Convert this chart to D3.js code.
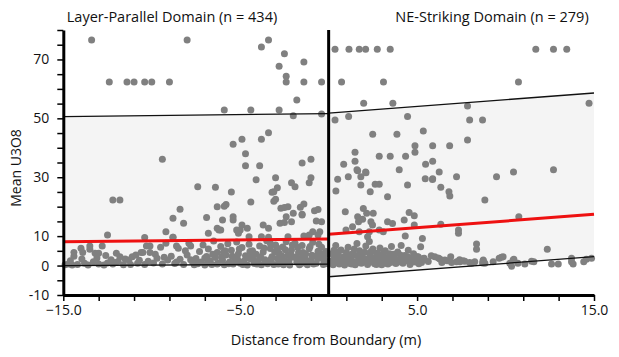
<!DOCTYPE html>
<html><head><meta charset="utf-8">
<script src="https://cdn.jsdelivr.net/npm/d3@7"></script>
<style>
html,body{margin:0;padding:0;background:#fff;}
svg{display:block;font-family:"Open Sans","Noto Sans",sans-serif;}
</style></head>
<body><svg id="chart" width="619" height="357"></svg>
<script>
// ---- data ----
const domainTitles = ["Layer-Parallel Domain (n = 434)", "NE-Striking Domain (n = 279)"];
const xLabel = "Distance from Boundary (m)";
const yLabel = "Mean U3O8";
const xTickValues = [-15,-13,-11,-9,-7,-5,-3,-1,1,3,5,7,9,11,13,15];
const xTickLabels = [-15,-5,5,15];
const yTickValues = [-10,-5,0,5,10,15,20,25,30,35,40,45,50,55,60,65,70,75,80];
const yTickLabels = [-10,0,10,30,50,70];

// envelope and mean lines [x, y]
const leftUpper = [[-15,50.6],[0,51.6]];
const leftLower = [[-15,0.0],[0,0.5]];
const leftMean  = [[-15,8.1],[0,9.0]];
const rightUpper = [[0,51.8],[15,58.6]];
const rightLower = [[0,-3.8],[15,3.0]];
const rightMean  = [[0,10.6],[15,17.4]];

// Layer-parallel domain samples [distance, U3O8]
const leftPoints = [
[-13.4,76.6],[-8.0,76.6],[-3.4,76.6],[-3.8,74.2],[-2.5,71.9],[-1.4,69.1],[-2.8,67.7],[-2.4,64.3],
[-12.4,62.3],[-11.4,62.3],[-11.0,62.3],[-10.4,62.3],[-10.0,62.3],[-9.0,62.3],[-2.4,62.3],[-1.4,62.3],[-0.4,62.3],
[-1.8,56.2],[-5.9,52.8],[-4.4,52.8],[-2.8,52.8],[-2.0,50.9],[-0.4,51.5],
[-3.4,45.1],[-4.9,42.9],[-3.8,42.9],[-5.4,41.2],[-4.7,38.0],[-9.4,36.1],[-1.0,36.1],[-1.5,34.8],[-4.7,33.9],[-3.9,33.9],
[-3.0,29.8],[-1.0,29.8],[-4.1,29.1],[-2.1,28.1],[-1.1,28.1],[-1.9,26.8],[-7.4,26.8],[-6.4,26.6],[-2.9,26.4],[-3.1,25.1],[-5.5,25.0],[-3.2,24.9],
[-4.4,21.6],[-3.0,22.5],[-3.1,21.8],[-12.2,22.3],[-11.8,22.3],[-2.5,19.7],[-1.4,20.9],[-1.6,19.8],[-2.3,20.0],[-2.7,19.5],[-2.0,17.8],[-0.8,18.6],[-0.6,19.0],
[-6.3,20.0],[-5.8,20.7],[-5.9,20.1],[-8.4,19.1],[-8.8,16.1],[-8.2,14.4],[-6.9,16.3],[-6.0,15.5],[-5.4,16.6],[-5.4,15.5],[-4.9,13.8],[-4.6,12.7],[-3.7,13.8],[-3.4,12.7],
[-2.4,16.6],[-2.1,14.9],[-2.5,14.6],[-2.75,14.4],[-1.5,17.4],[-1.5,17.2],[-0.7,15.1],[-0.4,14.9],[-0.9,11.5],[-0.5,11.5],[-1.1,10.4],[-0.6,10.4],
[-12.5,10.4],[-9.2,11.5],[-8.8,9.6],[-10.4,9.5],[-6.8,11.0],[-6.2,12.1],[-6.1,12.1],[-6.3,12.7],[-5.0,12.1],[-5.1,11.0],[-5.2,12.1],[-4.5,9.8],[-3.8,9.8],[-3.4,9.6],[-2.3,9.8],[-1.4,10.0],
[-14.9,0.3],[-14.7,0.5],[-14.5,0.2],[-14.4,4.4],[-14.4,3.2],[-14.2,0.4],[-14.0,5.9],[-13.9,4.4],[-13.8,0.8],[-13.6,0.2],[-13.5,6.6],[-13.5,5.5],[-13.3,1.3],[-13.2,4.2],[-13.0,4.2],[-13.0,0.5],
[-12.8,6.6],[-12.7,0.2],[-12.5,0.9],[-12.3,2.0],[-12.2,0.5],[-12.0,4.2],[-11.9,1.4],[-11.8,3.0],[-11.6,0.3],[-11.5,2.2],[-11.3,1.9],[-11.1,3.0],[-10.9,3.6],[-10.8,0.8],[-10.6,4.4],[-10.5,4.4],
[-10.4,0.4],[-10.3,6.6],[-10.2,1.5],[-10.1,6.6],[-10.1,4.4],[-9.9,0.9],[-9.7,2.5],[-9.5,6.2],[-9.4,0.5],[-9.2,7.6],[-9.1,1.9],[-8.9,3.2],[-8.8,9.6],[-8.7,0.7],[-8.6,6.6],[-8.5,5.9],[-8.4,2.1],[-8.2,0.4],[-8.0,3.6],[-7.9,7.6],[-7.8,6.6],[-7.7,1.3],[-7.6,0.3],
[-7.5,2.4],[-7.4,0.6],[-7.3,4.8],[-7.2,1.2],[-7.1,7.0],[-7.0,0.2],[-6.9,3.1],[-6.8,5.6],[-6.7,1.6],[-6.6,0.4],[-6.5,8.3],[-6.4,2.7],[-6.3,4.4],[-6.2,0.9],[-6.1,6.5],[-6.0,1.9],[-5.9,0.3],[-5.8,3.6],[-5.7,7.4],[-5.6,1.2],[-5.5,5.2],[-5.4,0.5],[-5.3,2.6],[-5.2,8.0],[-5.1,4.0],[-5.0,0.8],
[-4.9,6.1],[-4.8,1.5],[-4.7,3.3],[-4.6,0.2],[-4.5,7.2],[-4.4,2.2],[-4.3,5.0],[-4.2,0.7],[-4.1,3.8],[-4.0,1.4],[-3.9,6.6],[-3.8,0.3],[-3.7,4.6],[-3.6,2.0],[-3.5,8.4],[-3.4,1.0],[-3.3,5.8],[-3.2,3.0],[-3.1,0.4],[-3.0,7.0],
[-2.9,2.4],[-2.8,4.2],[-2.7,0.9],[-2.6,6.3],[-2.5,1.7],[-2.4,8.1],[-2.3,3.5],[-2.2,0.2],[-2.1,5.3],[-2.0,2.8],[-1.9,7.6],[-1.8,1.1],[-1.7,4.5],[-1.6,0.6],[-1.5,6.8],[-1.4,2.1],[-1.3,3.9],[-1.2,0.3],[-1.1,5.7],[-1.0,1.6],
[-0.9,7.9],[-0.8,3.2],[-0.7,0.8],[-0.6,4.9],[-0.5,2.5],[-0.4,6.2],[-0.3,0.4],[-0.2,3.7],[-0.1,1.3],
[-7.45,1.0],[-7.0,2.6],[-6.75,0.9],[-6.55,3.8],[-6.3,0.5],[-6.05,2.9],[-5.85,5.0],[-5.65,0.6],[-5.45,3.2],[-5.25,1.3],[-5.05,5.6],[-4.85,0.4],[-4.65,2.6],[-4.45,4.8],[-4.25,1.9],[-4.05,0.5],
[-3.85,3.0],[-3.65,6.0],[-3.45,0.6],[-3.25,2.2],[-3.05,4.6],[-2.85,0.5],[-2.65,3.3],[-2.45,5.4],[-2.25,1.5],[-2.05,7.0],[-1.85,3.0],[-1.65,0.3],[-1.45,4.4],[-1.25,1.8],[-1.05,6.5],[-0.85,0.5],[-0.65,2.9],[-0.45,4.1],[-0.25,1.9],[-0.05,0.6],
[-3.9,2.6],[-3.3,7.6],[-2.9,5.9],[-2.55,0.3],[-2.15,3.9],[-1.75,6.2],[-1.35,0.9],[-0.95,3.5],[-0.55,7.2],[-0.15,4.8],[-1.55,2.6],[-2.75,2.0],[-3.55,1.2],[-4.35,3.4],[-5.15,2.1],[-5.95,4.4],[-6.85,2.0],
[-14.6,1.6],[-13.95,2.2],[-13.1,2.6],[-12.6,3.4],[-12.1,1.0],[-11.2,0.4],[-10.7,1.8],[-9.8,3.8],[-9.3,2.8],[-8.6,1.2],[-8.1,5.0],[-7.8,2.0]
];

// NE-striking domain samples [distance, U3O8]
const rightPoints = [
[0.36,73.5],[1.15,73.5],[1.73,73.5],[2.09,73.5],[2.75,73.5],[3.48,73.5],[11.71,73.5],[12.71,73.5],[13.46,73.5],
[0.73,62.3],[3.1,62.3],[10.73,62.3],
[1.98,55.1],[3.63,55.1],[7.85,54.2],[14.72,55.1],
[1.13,50.6],[4.46,50.6],[0.36,49.4],[7.97,49.4],[8.7,49.4],
[5.35,45.7],[2.49,44.6],[3.86,44.6],[7.85,42.6],
[4.88,40.7],[5.88,40.7],[6.84,40.7],
[1.49,38.5],[4.88,38.5],[2.86,37.1],[3.48,37.1],[4.35,37.1],
[1.49,35.4],[5.88,35.4],[0.85,34.4],[5.48,34.4],
[1.6,32.5],[3.99,32.5],[12.71,32.5],[2.09,31.8],[6.25,31.8],[10.45,31.8],[2.11,31.5],
[1.11,30.2],[1.82,30.2],[7.23,30.2],[9.49,30.2],[5.46,29.5],[5.88,29.5],
[1.64,32.2],[0.51,29.3],[1.82,27.4],[2.63,27.6],[2.86,27.6],[0.41,25.3],[2.35,25.1],[3.33,23.4],[4.46,27.4],[5.87,29.2],[6.34,26.6],[6.8,25.1],[6.85,23.6],[8.83,22.3],
[0.94,18.3],[1.64,16.6],[1.69,14.9],[1.92,15.7],[1.96,19.4],[2.15,17.8],[2.52,17.8],[2.39,14.9],[2.48,13.8],[3.33,14.9],[3.61,14.3],[4.27,15.5],[4.55,18.0],[4.84,16.9],[4.84,13.8],[6.34,14.0],[10.75,16.6],
[0.98,12.1],[1.35,13.2],[1.73,11.5],[2.2,9.8],[2.3,11.5],[2.86,12.1],[3.09,11.5],[4.33,10.0],[5.3,9.2],[7.34,12.1],[7.34,11.0],
[8.36,7.3],[8.36,5.5],[12.36,5.5],
[7.42,1.3],[7.7,1.5],[8.08,0.8],[8.7,0.9],[8.74,1.9],[9.3,1.3],[9.64,2.5],[9.77,2.8],[10.24,0.8],[10.34,-0.2],[10.47,2.1],[11.09,0.5],[11.47,1.5],[11.6,1.3],[12.6,0.5],[12.98,0.5],[13.73,2.5],[13.73,1.3],[13.82,0.5],[14.42,1.3],[14.57,2.1],[14.86,2.5],
[5.06,3.0],[5.35,2.4],[5.63,1.4],[6.0,3.0],[6.29,2.2],[6.57,1.9],[6.95,1.0],[7.23,1.3],[7.6,1.6],[7.97,1.0],[8.26,1.3],[8.73,1.6],[8.83,0.8],[9.86,3.0],[10.43,1.9],[10.7,0.8],
[5.4,2.5],[5.8,3.3],[6.2,2.6],[6.4,1.0],[6.7,1.6],[6.9,3.0],[7.4,2.0],
[0.15,1.5],[0.2,4.0],[0.25,0.3],[0.3,2.6],[0.4,6.8],[0.45,1.0],[0.5,3.4],[0.6,0.5],[0.65,2.0],[0.7,5.3],[0.8,1.2],[0.85,3.0],[0.9,0.2],[1.0,4.4],[1.05,1.8],[1.1,6.2],[1.2,0.7],[1.25,2.8],[1.35,4.0],[1.4,1.3],
[1.5,0.3],[1.55,3.4],[1.6,7.5],[1.7,2.0],[1.75,5.0],[1.85,0.8],[1.9,3.0],[2.0,1.6],[2.05,4.5],[2.1,6.6],[2.2,0.4],[2.25,2.4],[2.3,8.2],[2.35,3.6],[2.45,1.2],[2.5,5.6],[2.6,0.6],[2.65,2.8],[2.75,4.2],[2.8,1.6],
[2.9,6.0],[3.0,0.3],[3.05,3.2],[3.15,1.4],[3.2,5.0],[3.3,2.2],[3.35,0.5],[3.45,4.0],[3.55,6.5],[3.6,1.5],[3.7,2.9],[3.8,0.7],[3.9,4.6],[4.0,2.0],[4.1,6.8],[4.2,0.8],[4.3,3.4],[4.4,1.6],[4.5,5.2],[4.6,0.4],
[4.7,2.6],[4.8,4.0],[4.9,1.2],[5.0,3.0],[5.1,0.6],[5.2,6.4],
[0.3,5.2],[0.55,4.6],[0.75,0.9],[0.95,2.4],[1.15,3.6],[1.3,0.5],[1.45,5.6],[1.65,1.0],[1.8,3.9],[1.95,2.5],[2.15,1.0],[2.4,4.8],[2.55,2.0],[2.7,0.4],[2.85,3.5],[2.95,2.0],[3.1,4.4],[3.25,0.8],[3.4,3.0],[3.5,1.0],
[3.65,3.8],[3.75,2.0],[3.95,1.2],[4.05,3.6],[4.25,2.2],[4.45,3.0],[4.65,1.0],[4.85,2.4],[5.05,1.8],[5.25,1.0]
];

// ---- chart ----
const svg = d3.select("#chart");
const plotLeft = 63.3, plotRight = 594, plotTop = 30, plotBottom = 295;
const x = d3.scaleLinear().domain([-15, 15]).range([plotLeft, plotRight]);
const y = d3.scaleLinear().domain([-10, 80]).range([plotBottom, plotTop]);

function band(upper, lower) {
  const xs = [upper[0][0], upper[1][0]];
  const interp = (ln, v) => ln[0][1] + (ln[1][1] - ln[0][1]) * (v - ln[0][0]) / (ln[1][0] - ln[0][0]);
  return d3.area().x(d => x(d)).y0(d => y(interp(lower, d))).y1(d => y(interp(upper, d)))(xs);
}
svg.append("path").attr("d", band(leftUpper, leftLower)).attr("fill", "#f4f4f4");
svg.append("path").attr("d", band(rightUpper, rightLower)).attr("fill", "#f4f4f4");

const pts = svg.append("g").attr("fill", "#808080");
pts.selectAll("circle.l").data(leftPoints).join("circle").attr("class","l")
  .attr("cx", d => x(d[0])).attr("cy", d => y(d[1])).attr("r", 3.5);
pts.selectAll("circle.r").data(rightPoints).join("circle").attr("class","r")
  .attr("cx", d => x(d[0])).attr("cy", d => y(d[1])).attr("r", 3.5);

const line = d3.line().x(d => x(d[0])).y(d => y(d[1]));
[leftUpper, leftLower, rightUpper, rightLower].forEach(l =>
  svg.append("path").attr("d", line(l)).attr("stroke", "#111").attr("stroke-width", 1.3).attr("fill", "none"));
[leftMean, rightMean].forEach(l =>
  svg.append("path").attr("d", line(l)).attr("stroke", "#ee1111").attr("stroke-width", 3).attr("fill", "none"));

// boundary line
svg.append("line").attr("x1", x(0)).attr("x2", x(0)).attr("y1", y(80)).attr("y2", y(-10))
  .attr("stroke", "#000").attr("stroke-width", 3);

// axes
const yAxis = d3.axisLeft(y).tickValues(yTickValues).tickSize(6).tickSizeOuter(0)
  .tickFormat(d => yTickLabels.includes(d) ? d : "");
const gy = svg.append("g").attr("transform", `translate(${plotLeft},0)`).call(yAxis);
const xAxis = d3.axisBottom(x).tickValues(xTickValues).tickSize(6).tickSizeOuter(0)
  .tickFormat(d => xTickLabels.includes(d) ? d3.format(".1f")(d) : "");
const gx = svg.append("g").attr("transform", `translate(0,${plotBottom})`).call(xAxis);
[gx, gy].forEach(g => {
  g.select(".domain").attr("stroke", "#000").attr("stroke-width", 3);
  g.selectAll(".tick line").attr("stroke", "#000").attr("stroke-width", 1.5);
  g.selectAll(".tick text").attr("fill", "#111").style("font-size", "14px").style("font-family", '"Open Sans","Noto Sans",sans-serif');
});
gy.selectAll(".tick text").attr("x", -14);
gx.selectAll(".tick text").attr("y", 10);

// titles and labels
svg.append("text").attr("x", 172).attr("y", 22).attr("text-anchor", "middle")
  .style("font-size", "14.5px").attr("fill", "#111").text(domainTitles[0]);
svg.append("text").attr("x", 492).attr("y", 22).attr("text-anchor", "middle")
  .style("font-size", "14.5px").attr("fill", "#111").text(domainTitles[1]);
svg.append("text").attr("x", 326).attr("y", 345).attr("text-anchor", "middle")
  .style("font-size", "14.5px").attr("fill", "#111").text(xLabel);
svg.append("text").attr("transform", "translate(21,168) rotate(-90)").attr("text-anchor", "middle")
  .style("font-size", "14px").attr("fill", "#111").text(yLabel);
</script></body></html>
